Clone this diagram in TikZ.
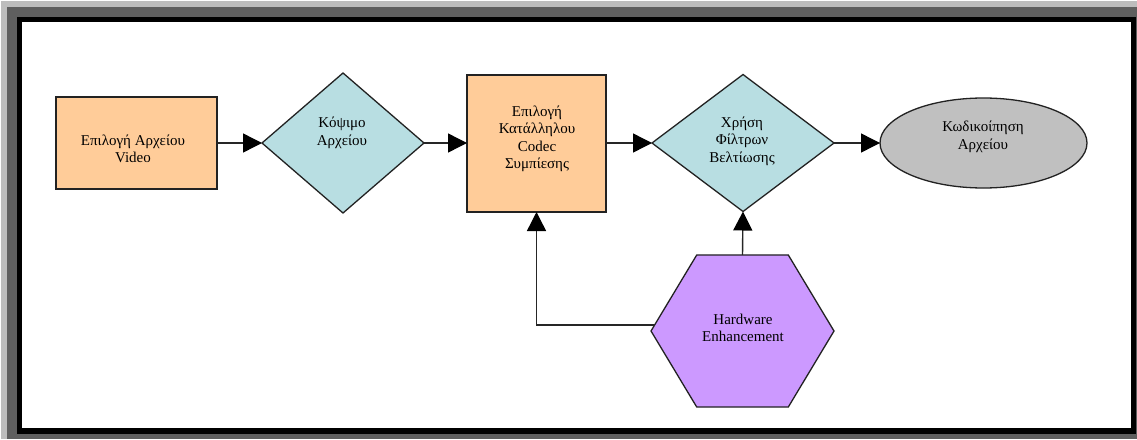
\documentclass[tikz,border=0pt]{standalone}
\usepackage{fontspec}
\setmainfont{Liberation Serif}
\usetikzlibrary{shapes.geometric,arrows.meta}
\definecolor{peach}{HTML}{FFCC99}
\definecolor{aqua}{HTML}{B8DEE2}
\definecolor{silverfill}{HTML}{C0C0C0}
\definecolor{lilac}{HTML}{CC99FF}
\definecolor{edge}{HTML}{222222}
\definecolor{wire}{HTML}{262626}
\definecolor{framelight}{HTML}{BDBDBD}
\definecolor{framedark}{HTML}{5F5F5F}
\tikzset{
  shapebase/.style={draw=edge, line width=1.3pt, inner sep=0pt, outer sep=0pt},
  procbox/.style={shapebase, rectangle, fill=peach},
  choice/.style={shapebase, diamond, fill=aqua},
  endoval/.style={shapebase, ellipse, fill=silverfill},
  hexa/.style={shapebase, regular polygon, regular polygon sides=6, fill=lilac},
  caption/.style={inner sep=0pt, align=center, font=\fontsize{15}{17.5}\selectfont},
  flow/.style={draw=wire, line width=1.4pt, -{Triangle[length=19pt,width=19pt,color=black]}}
}
\begin{document}
\begin{tikzpicture}[x=1pt,y=-1pt]
\useasboundingbox (0,0) rectangle (1137,439);
% bevelled window frame
\fill[white] (0,0) rectangle (1137,439);
\fill[framelight] (1,1) rectangle (1137,439);
\fill[framedark] (7,7) rectangle (1137,439);
\fill[black] (17,17) rectangle (1136,434);
\fill[white] (22,22) rectangle (1131,428);

% shapes
\node[procbox, minimum width=161pt, minimum height=92pt] (sel) at (136.5,143) {};
\node[choice, minimum width=162pt, minimum height=140pt] (cut) at (343,143) {};
\node[procbox, minimum width=139pt, minimum height=137pt] (codec) at (536.5,143.5) {};
\node[choice, minimum width=182pt, minimum height=137pt] (filt) at (743,143) {};
\node[endoval, minimum width=207pt, minimum height=90pt] (enc) at (983.5,143) {};
\node[hexa, minimum size=183pt, yscale=0.96, transform shape] (hw) at (742.5,331) {};

% labels
\node[caption] (tsel) at (133,149) {Επιλογή Αρχείου\\Video};
\node[caption] (tcut) at (342,133) {Κόψιμο\\Αρχείου};
\node[caption] (tcodec) at (537,139) {Επιλογή\\Κατάλληλου\\Codec\\Συμπίεσης};
\node[caption] (tfilt) at (742,141) {Χρήση\\Φίλτρων\\Βελτίωσης};
\node[caption] (tenc) at (983,137) {Κωδικοίπηση\\Αρχείου};
\node[caption] (thw) at (743,328) {Hardware\\Enhancement};

% connectors
\draw[flow] (sel.east) -- (cut.west);
\draw[flow] (cut.east) -- (codec.west |- cut.east);
\draw[flow] (codec.east |- cut.east) -- (filt.west);
\draw[flow] (filt.east) -- (enc.west);
\draw[flow] (hw.north) -- (filt.south);
\draw[flow] (hw.176) -| (codec.south);
\end{tikzpicture}
\end{document}
